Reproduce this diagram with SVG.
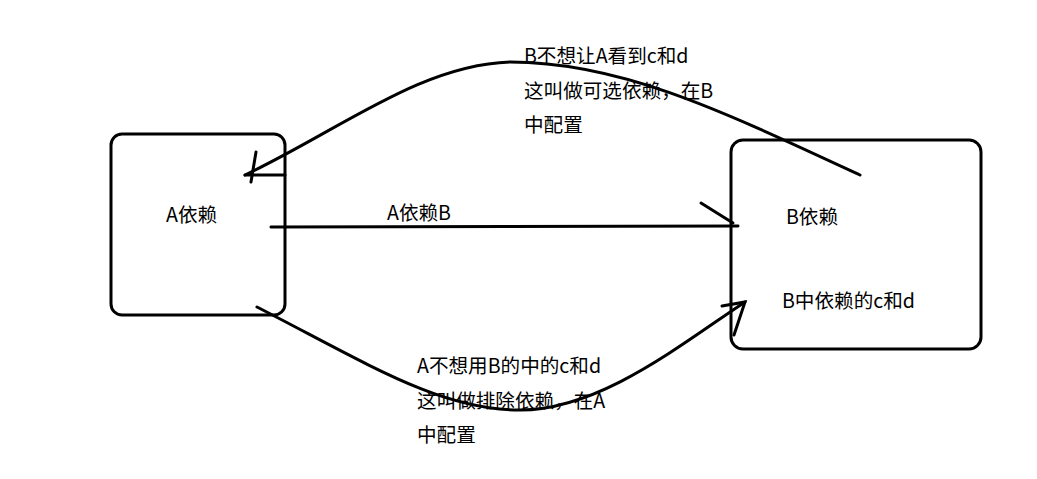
<svg xmlns="http://www.w3.org/2000/svg" width="1037" height="479" viewBox="0 0 1037 479">
<style>
.box{fill:none;stroke:#000;stroke-width:3}
.ln{fill:none;stroke:#000;stroke-width:3;stroke-linecap:round}
text{font-family:"Noto Sans CJK SC","Noto Sans",sans-serif;font-size:19.6px;fill:#000}
</style>
<rect width="1037" height="479" fill="#fff"/>
<g id="nodeA">
<rect class="box" x="111" y="134" width="174" height="181" rx="11"/>
<text x="166" y="222">A依赖</text>
</g>
<g id="nodeB">
<rect class="box" x="731" y="140" width="250" height="209" rx="12"/>
<text x="786" y="224">B依赖</text>
<text x="782" y="308">B中依赖的c和d</text>
</g>
<g id="connectors">
<path class="ln" d="M271,227 L738,226"/>
<path class="ln" d="M701,203 L733,223"/>
<path class="ln" d="M860,175 C720,110 620,62 510,62 C420,65 340,130 245,175"/>
<path class="ln" d="M245,175 L285,175 M251,182 L256,152"/>
<path class="ln" d="M257,307 C370,365 440,410 520,410 C600,410 680,345 745,302"/>
<path class="ln" d="M722,306 L745,302 L734,335"/>
</g>
<g id="labels">
<text x="387" y="220">A依赖B</text>
<text x="524" y="63">B不想让A看到c和d</text>
<text x="524" y="98">这叫做可选依赖，在B</text>
<text x="524" y="132">中配置</text>
<text x="417" y="373">A不想用B的中的c和d</text>
<text x="417" y="408">这叫做排除依赖，在A</text>
<text x="417" y="442">中配置</text>
</g>
</svg>
